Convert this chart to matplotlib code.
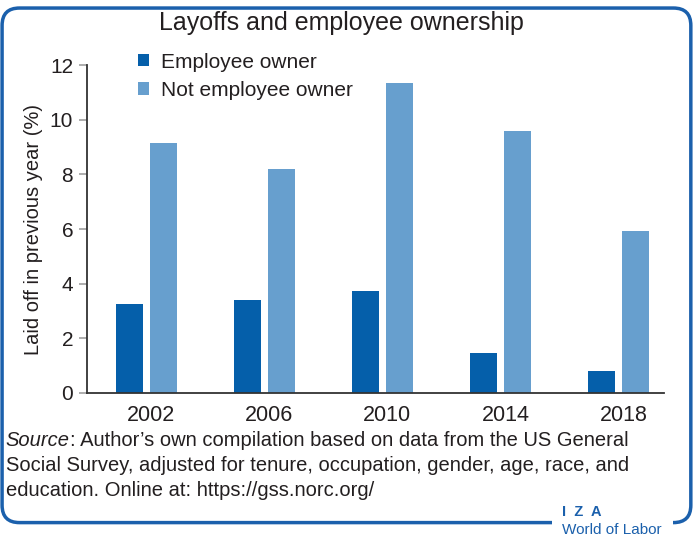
import numpy as np
import matplotlib.pyplot as plt
from matplotlib.patches import FancyBboxPatch, Rectangle

years = ['2002', '2006', '2010', '2014', '2018']
employee_owner = [3.25, 3.39, 3.72, 1.46, 0.80]
not_employee_owner = [9.16, 8.21, 11.35, 9.60, 5.91]
yticks = [0, 2, 4, 6, 8, 10, 12]

dark = '#055FAA'
light = '#679FCE'
frame_blue = '#1B60AC'
txt = '#231f20'

plt.rcParams['font.family'] = ['Liberation Sans', 'DejaVu Sans']

fig = plt.figure(figsize=(6.95, 5.36), dpi=100)

# rounded frame with a gap for the logo
frame = FancyBboxPatch((0.003, 0.025), 0.991, 0.96,
                       boxstyle='round,pad=0,rounding_size=0.025',
                       transform=fig.transFigure, fill=False,
                       edgecolor=frame_blue, linewidth=2.5, mutation_aspect=695/536)
fig.patches.append(frame)
fig.patches.append(Rectangle((0.794, 0.0), 0.174, 0.06, transform=fig.transFigure,
                             facecolor='white', edgecolor='none', zorder=3))

ax = fig.add_axes([0.1252, 0.2668, 0.8302, 0.6119])
x = np.arange(len(years))
w = 0.229
ax.bar(x - 0.144, employee_owner, w, color=dark, label='Employee owner')
ax.bar(x + 0.144, not_employee_owner, w, color=light, label='Not employee owner')

ax.set_xlim(-0.504, 4.386)
ax.set_ylim(0, 12)
ax.set_yticks(yticks)
ax.set_yticklabels([str(t) for t in yticks], fontsize=15, color=txt)
# year labels sit slightly right of the bar pairs in the original
ax.set_xticks(x + 0.042)
ax.set_xticklabels(years, fontsize=15.5, color=txt)
ax.tick_params(axis='x', length=0, pad=9)
ax.tick_params(axis='y', length=6, width=1.2, color='#a0a0a0', pad=4)
for s in ['top', 'right']:
    ax.spines[s].set_visible(False)
for s in ['left', 'bottom']:
    ax.spines[s].set_color('#333333')
    ax.spines[s].set_linewidth(1.3)
ax.set_ylabel('Laid off in previous year (%)', fontsize=14.5, color=txt, labelpad=5)

ax.legend(loc='upper left', bbox_to_anchor=(0.088, 1.038), frameon=False,
          borderpad=0, borderaxespad=0,
          fontsize=15, handlelength=0.55, handleheight=0.55,
          handletextpad=0.58, labelspacing=0.45, labelcolor=txt)

fig.text(0.491, 0.958, 'Layoffs and employee ownership', ha='center', va='center',
         fontsize=18, color=txt)

src_lines = ['Author\u2019s own compilation based on data from the US General',
             'Social Survey, adjusted for tenure, occupation, gender, age, race, and',
             'education. Online at: https://gss.norc.org/']
t1 = fig.text(0.008, 0.178, 'Source', fontsize=14.5, color=txt, va='center', style='italic')
fig.canvas.draw()
bb = t1.get_window_extent()
fig.text(bb.x1 / fig.bbox.width, 0.178, ': ' + src_lines[0], fontsize=14.5, color=txt, va='center')
fig.text(0.008, 0.131, src_lines[1], fontsize=14.5, color=txt, va='center')
fig.text(0.008, 0.085, src_lines[2], fontsize=14.5, color=txt, va='center')

fig.text(0.808, 0.044, 'I  Z  A', fontsize=10.5, color=frame_blue, weight='bold', va='center', zorder=4)
fig.text(0.809, 0.012, 'World of Labor', fontsize=11, color=frame_blue, va='center', zorder=4)

fig.savefig('out.png', dpi=100)
